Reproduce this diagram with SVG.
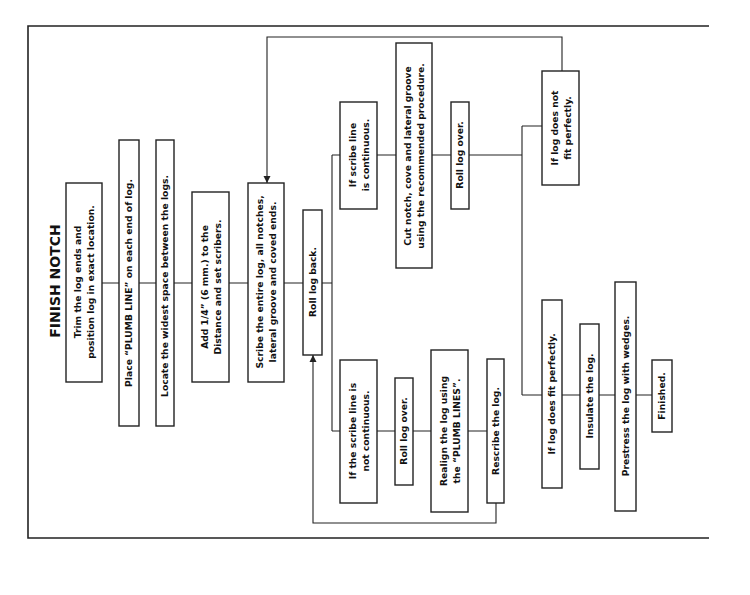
<svg xmlns="http://www.w3.org/2000/svg" width="750" height="595" viewBox="0 0 750 595">
<defs>
<marker id="ah" viewBox="0 0 10 10" refX="10" refY="5" markerWidth="7" markerHeight="9" markerUnits="userSpaceOnUse" orient="auto"><path d="M0,0 L10,5 L0,10 z" fill="#222"/></marker>
<style>
.b{fill:#fff;stroke:#222;stroke-width:1.4}
.c{fill:none;stroke:#222;stroke-width:1.1}
.f{fill:none;stroke:#222;stroke-width:1.6}
text{font-family:"DejaVu Sans","Liberation Sans",Arial,sans-serif;font-weight:bold;font-size:9.2px;fill:#111;text-anchor:middle}
.t{font-size:14px}
</style>
</defs>
<rect width="750" height="595" fill="#fff"/>
<path class="f" d="M709,26 H28 V538 H709"/>
<text class="t" transform="translate(60,281) rotate(-90)">FINISH NOTCH</text>
<g id="connectors">
<path class="c" d="M102,283 H119 M139,283 H156 M174,283 H192 M229,283 H248 M284,283 H303 M322,283 H332"/>
<path class="c" d="M332,155 V431 M332,155 H340 M377,155 H396 M432,155 H451 M469,155 H522"/>
<path class="c" d="M332,431 H340 M377,431 H395 M413,431 H431 M468,431 H487"/>
<path class="c" d="M522,126 V395 M522,126 H542 M522,395 H542 M562,395 H580 M599,395 H615 M636,395 H652"/>
<path class="c" d="M562,71 V37 H267 V183" marker-end="url(#ah)"/>
<path class="c" d="M496,503 V523 H313 V355" marker-end="url(#ah)"/>
</g>
<g id="n1"><rect class="b" x="66" y="183" width="36" height="199"/><text transform="translate(84,282) rotate(-90)"><tspan x="0" dy="-3">Trim the log ends and</tspan><tspan x="0" dy="13">position log in exact location.</tspan></text></g>
<g id="n2"><rect class="b" x="119" y="140" width="20" height="286"/><text transform="translate(129,283) rotate(-90)" dy="3.3">Place “PLUMB LINE” on each end of log.</text></g>
<g id="n3"><rect class="b" x="156" y="140" width="18" height="286"/><text transform="translate(165,286) rotate(-90)" dy="3.3">Locate the widest space between the logs.</text></g>
<g id="n4"><rect class="b" x="192" y="192" width="37" height="190"/><text transform="translate(210.5,287) rotate(-90)"><tspan x="0" dy="-3">Add 1/4” (6 mm.) to the</tspan><tspan x="0" dy="13">Distance and set scribers.</tspan></text></g>
<g id="n5"><rect class="b" x="248" y="183" width="36" height="199"/><text transform="translate(266,282) rotate(-90)"><tspan x="0" dy="-3">Scribe the entire log, all notches,</tspan><tspan x="0" dy="13">lateral groove and coved ends.</tspan></text></g>
<g id="n6"><rect class="b" x="303" y="210" width="19" height="145"/><text transform="translate(312.5,282) rotate(-90)" dy="3.3">Roll log back.</text></g>
<g id="n7"><rect class="b" x="340" y="102" width="37" height="107"/><text transform="translate(358.5,155) rotate(-90)"><tspan x="0" dy="-3">If scribe line</tspan><tspan x="0" dy="13">is continuous.</tspan></text></g>
<g id="n8"><rect class="b" x="396" y="43" width="36" height="225"/><text transform="translate(414,156) rotate(-90)"><tspan x="0" dy="-3">Cut notch, cove and lateral groove</tspan><tspan x="0" dy="13">using the recommended procedure.</tspan></text></g>
<g id="n9"><rect class="b" x="451" y="102" width="18" height="107"/><text transform="translate(460,155) rotate(-90)" dy="3.3">Roll log over.</text></g>
<g id="n10"><rect class="b" x="542" y="71" width="37" height="114"/><text transform="translate(560.5,128) rotate(-90)"><tspan x="0" dy="-3">If log does not</tspan><tspan x="0" dy="13">fit perfectly.</tspan></text></g>
<g id="n11"><rect class="b" x="542" y="300" width="20" height="188"/><text transform="translate(552,394) rotate(-90)" dy="3.3">If log does fit perfectly.</text></g>
<g id="n12"><rect class="b" x="580" y="324" width="19" height="145"/><text transform="translate(589.5,396) rotate(-90)" dy="3.3">Insulate the log.</text></g>
<g id="n13"><rect class="b" x="615" y="282" width="21" height="229"/><text transform="translate(625.5,396) rotate(-90)" dy="3.3">Prestress the log with wedges.</text></g>
<g id="n14"><rect class="b" x="652" y="360" width="20" height="72"/><text transform="translate(662,396) rotate(-90)" dy="3.3">Finished.</text></g>
<g id="n15"><rect class="b" x="340" y="360" width="37" height="143"/><text transform="translate(358.5,431) rotate(-90)"><tspan x="0" dy="-3">If the scribe line is</tspan><tspan x="0" dy="13">not continuous.</tspan></text></g>
<g id="n16"><rect class="b" x="395" y="378" width="18" height="107"/><text transform="translate(404,431) rotate(-90)" dy="3.3">Roll log over.</text></g>
<g id="n17"><rect class="b" x="431" y="350" width="37" height="162"/><text transform="translate(449.5,431) rotate(-90)"><tspan x="0" dy="-3">Realign the log using</tspan><tspan x="0" dy="13">the “PLUMB LINES”.</tspan></text></g>
<g id="n18"><rect class="b" x="487" y="359" width="17" height="144"/><text transform="translate(495.5,431) rotate(-90)" dy="3.3">Rescribe the log.</text></g>
</svg>
